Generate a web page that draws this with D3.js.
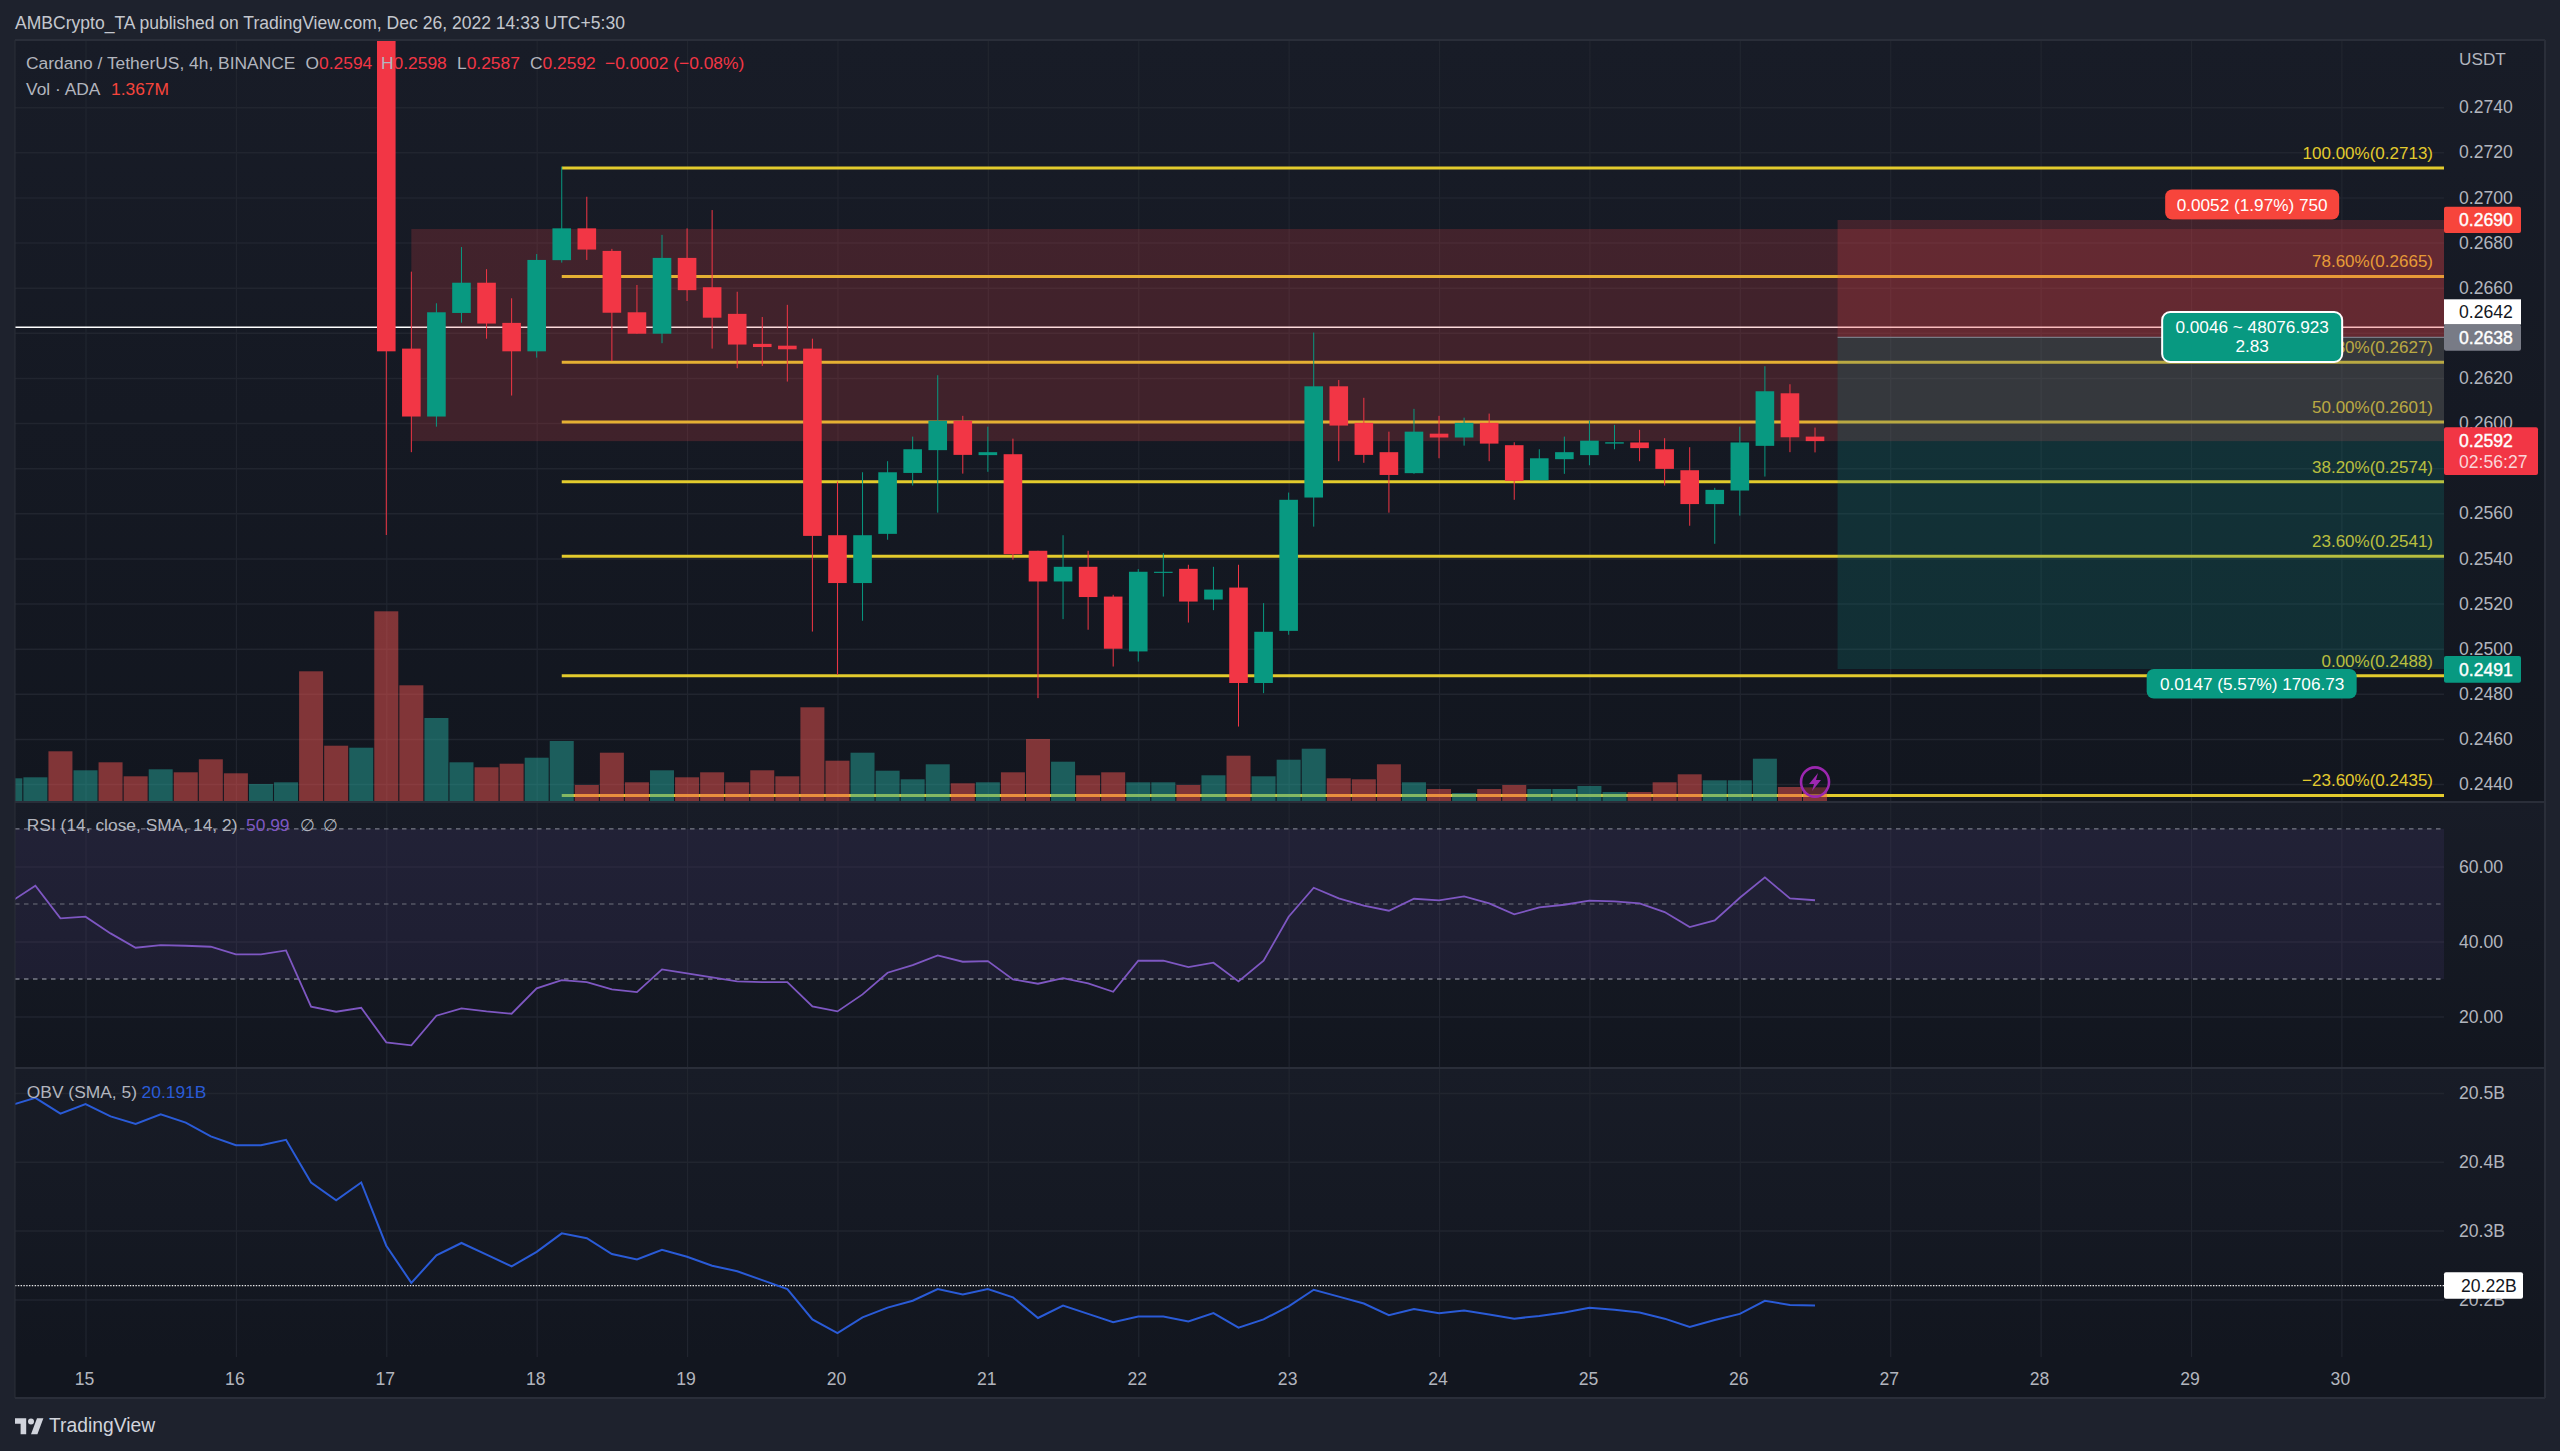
<!DOCTYPE html>
<html>
<head>
<meta charset="utf-8">
<script src="https://cdn.jsdelivr.net/npm/d3@7"></script>
<style>
  html, body { margin: 0; padding: 0; background: #1e222d; }
  svg { display: block; }
  text { font-family: "Liberation Sans", Arial, sans-serif; }
</style>
</head>
<body>
<div id="chart"></div>
<script>
// candles start on day 17, one every 4h
var candleOpen = [.2790,.26330,.26029,.26488,.26622,.26444,.26318,.26722,.26863,.26763,
  .26491,.26396,.26732,.26602,.26484,.26351,.26343,.26330,.25503,.25291,
  .25509,.25779,.25880,.26010,.25858,.25862,.25434,.25298,.25363,.25231,
  .24988,.25336,.25354,.25218,.25271,.24848,.25079,.25670,.26163,.26001,
  .25871,.25778,.25953,.25936,.26001,.25902,.25747,.25840,.25858,.25909,
  .25914,.25884,.25791,.25641,.25701,.25899,.26132,.2594];
var candleHigh = [.2800,.26671,.26531,.26780,.26682,.26553,.26749,.27136,.27003,.26772,
  .26612,.26834,.26863,.26944,.26582,.26470,.26524,.26374,.25741,.25782,
  .25831,.25940,.26212,.26032,.25984,.25931,.25434,.25503,.25434,.25239,
  .25353,.25424,.25372,.25363,.25372,.25202,.25692,.26401,.26191,.26112,
  .25962,.26063,.26032,.26024,.26042,.25915,.25884,.25940,.26011,.25992,
  .25970,.25933,.25893,.25713,.25984,.26252,.26172,.2598];
var candleLow = [.25504,.25871,.25984,.26445,.26374,.26122,.26290,.26711,.26723,.26275,
  .26396,.26354,.26541,.26330,.26243,.26253,.26184,.25076,.24884,.25124,
  .25483,.25723,.25603,.25776,.25784,.25395,.24781,.25131,.25084,.24921,
  .24943,.25231,.25116,.25171,.24655,.24803,.25062,.25541,.25831,.25824,
  .25603,.25775,.25844,.25900,.25831,.25660,.25747,.25775,.25813,.25884,
  .25831,.25723,.25545,.25465,.25590,.25763,.25871,.2587];
var candleClose = [.26318,.26029,.26491,.26622,.26441,.26318,.26723,.26863,.26769,.26489,
  .26396,.26732,.26589,.26467,.26348,.26337,.26327,.25500,.25291,.25503,
  .25782,.25884,.26010,.25859,.25871,.25419,.25298,.25363,.25229,.25000,
  .25341,.25341,.25209,.25262,.24848,.25075,.25660,.26163,.25989,.25859,
  .25770,.25962,.25936,.26001,.25909,.25744,.25844,.25871,.25922,.25915,
  .25889,.25797,.25641,.25704,.25914,.26141,.25937,.2592];

// indicator rows start at day 14.5 (15 bars before the first candle)
var volume = [2.27,2.37,4.97,3.07,3.87,2.47,3.17,2.87,4.17,2.77,1.70,1.87,12.97,5.53,5.33,
  18.97,11.57,8.30,3.87,3.37,3.73,4.33,6.00,1.60,4.83,1.87,3.07,2.37,2.87,1.87,3.07,2.47,9.37,4.03,4.83,
  3.03,2.17,3.67,1.77,1.87,2.87,6.20,3.93,2.57,2.87,1.87,1.87,1.60,2.57,4.53,2.47,4.13,5.23,2.27,2.17,3.67,
  1.87,1.20,0.80,1.20,1.60,1.20,1.20,1.50,0.90,0.90,1.87,2.67,2.07,2.07,4.23,1.40,1.367];
var volumeUp = [1,1,0,1,0,0,1,0,0,0,1,1,0,0,1,
  0,0,1,1,0,0,1,1,0,0,0,1,0,0,0,0,0,0,0,1,1,1,1,0,1,0,0,1,0,0,1,1,0,1,0,1,1,1,0,0,0,
  1,0,1,0,0,1,1,1,1,0,0,0,1,1,1,0,0];
var rsi = [50.5,54.85,46.15,46.6,42.16,38.34,39.05,38.87,38.6,36.56,36.56,37.63,22.63,21.3,22.36,
  13.13,12.33,20.23,22.18,21.38,20.76,27.51,29.73,29.2,27.24,26.53,32.57,31.5,30.44,29.37,29.2,29.2,22.72,21.38,25.91,
  31.68,33.72,36.3,34.61,34.79,29.91,28.75,30.26,28.84,26.62,34.88,34.88,33.19,34.35,29.37,34.88,46.6,54.32,51.48,49.53,48.19,
  51.39,50.95,52.01,50.15,47.22,49.08,49.79,50.86,50.68,50.15,47.84,43.84,45.62,51.66,57.07,51.48,50.99];
var obv = [20.482,20.493,20.470,20.484,20.466,20.455,20.469,20.457,20.437,20.424,20.424,20.432,20.370,20.344,20.370,
  20.278,20.224,20.264,20.282,20.265,20.248,20.269,20.296,20.289,20.266,20.258,20.272,20.262,20.249,20.241,20.228,20.215,20.171,20.151,20.174,
  20.188,20.198,20.215,20.207,20.215,20.203,20.173,20.191,20.179,20.167,20.175,20.175,20.168,20.180,20.159,20.171,20.190,20.214,20.204,20.194,20.177,
  20.186,20.180,20.184,20.178,20.172,20.176,20.181,20.188,20.185,20.181,20.172,20.160,20.170,20.179,20.198,20.192,20.191];

var dayTicks = [15,16,17,18,19,20,21,22,23,24,25,26,27,28,29,30];
var priceGrid = [.274,.272,.270,.268,.266,.264,.262,.260,.258,.256,.254,.252,.250,.248,.246,.244];
// .264 and .258 sit behind the price boxes, no label for those
var priceTicks = [.274,.272,.270,.268,.266,.262,.260,.256,.254,.252,.250,.248,.246,.244];
var rsiTicks = [60,40,20];
var rsiBands = [70,50,30];
var obvTicks = [20.5,20.4,20.3,20.2];

var fibPrices = [.2713,.2665,.2627,.26005,.2574,.2541,.2488,.2435];
var fibLabels = ["100.00%(0.2713)","78.60%(0.2665)","61.80%(0.2627)","50.00%(0.2601)","38.20%(0.2574)","23.60%(0.2541)","0.00%(0.2488)","−23.60%(0.2435)"];

var markedPrice = .26425, zoneTop = .2686, zoneBottom = .2592;
var entry = .2638, stop = .2690, target = .2491;

var chartW = 2560, chartH = 1451;
var left = 15, plotRight = 2444, panelRight = 2545, top_ = 41, mainBottom = 801, rsiBottom = 1068, plotBottom = 1357, panelBottom = 1398;
var textCol = "#b2b5be", red = "#f23645", green = "#089981", orange = "#f7453c";

var x = d3.scaleLinear().domain([15, 30]).range([85.5, 2341.4]);
var y = d3.scaleLinear().domain([.244, .272]).range([784.1, 152.3]);
var yVol = d3.scaleLinear().domain([0, 10]).range([801, 701]);
var yRsi = d3.scaleLinear().domain([20, 60]).range([1016.6, 866.4]);
var yObv = d3.scaleLinear().domain([20.2, 20.5]).range([1299.4, 1093]);

var svg = d3.select("#chart").append("svg").attr("width", chartW).attr("height", chartH);
var defs = svg.append("defs");

var grad = defs.append("linearGradient").attr("id", "paneBg").attr("x1", 0).attr("x2", 0).attr("y1", 0).attr("y2", 1);
grad.append("stop").attr("offset", "0%").attr("stop-color", "#181c27");
grad.append("stop").attr("offset", "100%").attr("stop-color", "#12161f");

function clip(id, y0, y1) {
  defs.append("clipPath").attr("id", id).append("rect")
    .attr("x", left).attr("y", y0).attr("width", plotRight - left).attr("height", y1 - y0);
}
clip("clipMain", top_, mainBottom);
clip("clipRsi", mainBottom, rsiBottom);
clip("clipObv", rsiBottom, plotBottom);

function label(g, px, py, txt, col, anchor, size, weight) {
  return g.append("text").attr("x", px).attr("y", py).attr("dy", ".35em")
    .attr("text-anchor", anchor || "start").attr("fill", col)
    .attr("font-size", size || 17.4).attr("font-weight", weight || 400).text(txt);
}

// labels in the price boxes are a bit heavier than normal, not full bold
function heavy(t) {
  return t.attr("stroke", t.attr("fill")).attr("stroke-width", .4);
}

function box(g, x0, y0, x1, y1, fill, r) {
  return g.append("rect").attr("x", x0).attr("y", y0).attr("width", x1 - x0).attr("height", y1 - y0)
    .attr("rx", r || 0).attr("fill", fill);
}

// ---- panels
svg.append("rect").attr("width", chartW).attr("height", chartH).attr("fill", "#1e222d");
[[top_ - 1, mainBottom], [mainBottom, rsiBottom], [rsiBottom, plotBottom]].forEach(function (p) {
  box(svg, left, p[0], panelRight, p[1], "url(#paneBg)");
});
box(svg, left, plotBottom, panelRight, panelBottom, "#12161f");

// ---- grid, drawn with the axes themselves
function hGrid(scale, ticks) {
  var g = svg.append("g").attr("transform", "translate(" + left + ",0)")
    .call(d3.axisRight(scale).tickValues(ticks).tickSize(plotRight - left).tickFormat(""));
  g.select(".domain").remove();
  g.selectAll("line").attr("stroke", "#21252f").attr("stroke-width", 1.5);
}
hGrid(y, priceGrid);
hGrid(yRsi, rsiTicks);
hGrid(yObv, obvTicks);

var vGrid = svg.append("g").attr("transform", "translate(0," + plotBottom + ")")
  .call(d3.axisTop(x).tickValues(dayTicks).tickSize(plotBottom - top_).tickFormat(""));
vGrid.select(".domain").remove();
vGrid.selectAll("line").attr("stroke", "#21252f").attr("stroke-width", 1.2);

// ---- main pane
var main = svg.append("g").attr("clip-path", "url(#clipMain)");

main.append("line").attr("x1", left).attr("x2", plotRight).attr("y1", y(markedPrice)).attr("y2", y(markedPrice))
  .attr("stroke", "#ffffff").attr("stroke-width", 1.5);

var fibStart = 17 + 7 / 6;
main.selectAll(".fib").data(fibPrices).enter().append("line")
  .attr("x1", x(fibStart)).attr("x2", plotRight)
  .attr("y1", function (d) { return y(d); }).attr("y2", function (d) { return y(d); })
  .attr("stroke", "#e3cb2d").attr("stroke-width", 3);
main.selectAll(".fibText").data(fibPrices).enter().append("text")
  .attr("x", 2433).attr("y", function (d) { return y(d) - 15; }).attr("dy", ".35em")
  .attr("text-anchor", "end").attr("fill", "#e3cb2d").attr("font-size", 17)
  .text(function (d, i) { return fibLabels[i]; });

// supply zone and long position sit over the lines, the colours mix
var zoneStart = 17 + 1 / 6, posStart = 26.65, posEnd = 32.15;
box(main, x(zoneStart), y(zoneTop), plotRight, y(zoneBottom), "rgba(240,68,75,.2)");
box(main, x(posStart), y(stop), plotRight, y(entry), "rgba(240,68,75,.2)");
box(main, x(posStart), y(entry), plotRight, y(target), "rgba(8,147,135,.2)");
main.append("line").attr("x1", x(posStart)).attr("x2", plotRight).attr("y1", y(entry)).attr("y2", y(entry))
  .attr("stroke", "#787b86").attr("stroke-width", 1.2);

// volume
var barDay = function (i) { return 14.5 + i / 6; };
main.selectAll(".vol").data(volume).enter().append("rect")
  .attr("x", function (d, i) { return x(barDay(i)) - 12; })
  .attr("width", 24)
  .attr("y", function (d) { return yVol(d); })
  .attr("height", function (d) { return yVol(0) - yVol(d); })
  .attr("fill", function (d, i) { return volumeUp[i] ? "#26a69a" : "#ef5350"; })
  .attr("fill-opacity", .5);

// candles
var candleDay = function (i) { return 17 + i / 6; };
var candleCol = function (i) { return candleClose[i] >= candleOpen[i] ? green : red; };
main.selectAll(".wick").data(candleHigh).enter().append("line")
  .attr("x1", function (d, i) { return x(candleDay(i)); })
  .attr("x2", function (d, i) { return x(candleDay(i)); })
  .attr("y1", function (d) { return y(d); })
  .attr("y2", function (d, i) { return y(candleLow[i]); })
  .attr("stroke", function (d, i) { return candleCol(i); })
  .attr("stroke-width", 1);
main.selectAll(".body").data(candleOpen).enter().append("rect")
  .attr("x", function (d, i) { return x(candleDay(i)) - 9.3; })
  .attr("width", 18.6)
  .attr("y", function (d, i) { return y(Math.max(d, candleClose[i])); })
  .attr("height", function (d, i) { return Math.abs(y(d) - y(candleClose[i])); })
  .attr("fill", function (d, i) { return candleCol(i); });

// lightning mark
var bolt = svg.append("g").attr("transform", "translate(" + x(candleDay(57)) + ",782)");
bolt.append("ellipse").attr("rx", 14).attr("ry", 14.6).attr("fill", "#131722").attr("fill-opacity", .35)
  .attr("stroke", "#9c27b0").attr("stroke-width", 2.6);
bolt.append("path").attr("d", "M3,-9 L-6,2 L-1,2 L-3,9 L6,-2 L1,-2 Z").attr("fill", "#9c27b0");

// ---- RSI
var rsiG = svg.append("g").attr("clip-path", "url(#clipRsi)");
box(rsiG, left, yRsi(70), plotRight, yRsi(30), "rgba(126,87,194,.1)");
rsiG.selectAll(".band").data(rsiBands).enter().append("line")
  .attr("x1", left).attr("x2", plotRight)
  .attr("y1", function (d) { return yRsi(d); }).attr("y2", function (d) { return yRsi(d); })
  .attr("stroke", "#787b86").attr("stroke-width", 1.4).attr("stroke-dasharray", "4.5 4.5")
  .attr("stroke-opacity", function (d) { return d === 50 ? .6 : 1; });
rsiG.append("path").datum(rsi).attr("fill", "none").attr("stroke", "#7e57c2").attr("stroke-width", 1.8)
  .attr("d", d3.line().x(function (d, i) { return x(barDay(i)); }).y(function (d) { return yRsi(d); }));

// ---- OBV
var obvG = svg.append("g").attr("clip-path", "url(#clipObv)");
obvG.append("line").attr("x1", left).attr("x2", plotRight).attr("y1", yObv(20.22)).attr("y2", yObv(20.22))
  .attr("stroke", "#e8e8ea").attr("stroke-width", 1.4).attr("stroke-dasharray", "1.4 1.4");
obvG.append("path").datum(obv).attr("fill", "none").attr("stroke", "#2a5bd7").attr("stroke-width", 2)
  .attr("d", d3.line().x(function (d, i) { return x(barDay(i)); }).y(function (d) { return yObv(d); }));

// ---- axes
function rightAxis(scale, ticks, fmt) {
  var g = svg.append("g").attr("transform", "translate(" + plotRight + ",0)")
    .call(d3.axisRight(scale).tickValues(ticks).tickSize(0).tickPadding(15).tickFormat(fmt));
  g.select(".domain").remove();
  g.selectAll("text").attr("fill", textCol).attr("font-size", 17.6).attr("font-family", null);
  g.attr("font-family", null);
}
rightAxis(y, priceTicks, d3.format(".4f"));
rightAxis(yRsi, rsiTicks, d3.format(".2f"));
rightAxis(yObv, obvTicks, function (d) { return d.toFixed(1) + "B"; });

var xAxisG = svg.append("g").attr("transform", "translate(-1.5,1379)")
  .call(d3.axisBottom(x).tickValues(dayTicks).tickSize(0).tickPadding(0).tickFormat(d3.format("d")));
xAxisG.select(".domain").remove();
xAxisG.attr("font-family", null);
xAxisG.selectAll("text").attr("fill", textCol).attr("font-size", 17.6).attr("dy", ".35em");

// pane separators and frame
[top_ - 1, mainBottom + 1, rsiBottom, panelBottom].forEach(function (py) {
  svg.append("line").attr("x1", left).attr("x2", panelRight).attr("y1", py).attr("y2", py)
    .attr("stroke", "#2a2e39").attr("stroke-width", 2);
});
svg.append("line").attr("x1", panelRight).attr("x2", panelRight).attr("y1", top_ - 1).attr("y2", panelBottom)
  .attr("stroke", "#2a2e39").attr("stroke-width", 2);
svg.append("line").attr("x1", left).attr("x2", left).attr("y1", top_ - 1).attr("y2", panelBottom)
  .attr("stroke", "#2a2e39").attr("stroke-width", 1);

// ---- axis price boxes
label(svg, 2459, 59, "USDT", textCol, "start", 17.2);
box(svg, 2444, 206.7, 2521, 233, orange, 2);
heavy(label(svg, 2459, 220, "0.2690", "#fff", "start", 17.6));
box(svg, 2444, 299.3, 2521, 324.5, "#fff");
label(svg, 2459, 312, "0.2642", "#131722", "start", 17.6);
box(svg, 2444, 324.5, 2521, 350.7, "#787b86", 2);
heavy(label(svg, 2459, 338, "0.2638", "#fff", "start", 17.6));
box(svg, 2444, 427.3, 2538, 475, red, 2);
heavy(label(svg, 2459, 441, "0.2592", "#fff", "start", 17.6));
label(svg, 2459, 462, "02:56:27", "#fbd5d9", "start", 17.6);
box(svg, 2444, 656, 2521, 682.7, green, 2);
heavy(label(svg, 2459, 669.5, "0.2491", "#fff", "start", 17.6));
box(svg, 2444, 1272.3, 2523, 1298.7, "#fff", 2);
label(svg, 2461, 1285.6, "20.22B", "#131722", "start", 17.6);

// ---- position tool pills
var pillX = x((posStart + posEnd) / 2) + 1;
box(svg, pillX - 87, y(stop) - 30.5, pillX + 87, y(stop) - .5, orange, 7);
label(svg, pillX, y(stop) - 15.5, "0.0052 (1.97%) 750", "#fff", "middle", 17.2);
box(svg, pillX - 90, 312, pillX + 90, 362, green, 8).attr("stroke", "#fff").attr("stroke-width", 2);
label(svg, pillX, 327.3, "0.0046 ~ 48076.923", "#fff", "middle", 17.2);
label(svg, pillX, 345.7, "2.83", "#fff", "middle", 17.2);
box(svg, pillX - 105.5, y(target), pillX + 104.5, y(target) + 29.5, green, 7);
label(svg, pillX, y(target) + 14.5, "0.0147 (5.57%) 1706.73", "#fff", "middle", 17.2);

// ---- header and legends
label(svg, 15, 22.5, "AMBCrypto_TA published on TradingView.com, Dec 26, 2022 14:33 UTC+5:30", "#c4c7ce", "start", 17.55);

label(svg, 26, 63, "Cardano / TetherUS, 4h, BINANCE", textCol);
var ohlc = [["O", "0.2594", 305.5], ["H", "0.2598", 381], ["L", "0.2587", 457], ["C", "0.2592", 530]];
ohlc.forEach(function (o) {
  var t = label(svg, o[2], 63, o[0], textCol);
  t.append("tspan").attr("fill", red).text(o[1]);
});
label(svg, 605, 63, "−0.0002 (−0.08%)", red);
label(svg, 26, 89, "Vol · ADA", textCol);
label(svg, 111, 89, "1.367M", orange);

label(svg, 26.8, 825, "RSI (14, close, SMA, 14, 2)", textCol);
label(svg, 246, 825, "50.99", "#7e57c2");
label(svg, 300, 825, "∅", textCol);
label(svg, 323, 825, "∅", textCol);

label(svg, 26.8, 1091.7, "OBV (SMA, 5)", textCol);
label(svg, 141.6, 1091.7, "20.191B", "#2a5bd7");

// ---- footer logo
svg.append("path").attr("transform", "translate(15,1415) scale(.8)")
  .attr("d", "M14 24H7V11H0V4h14v20zM28 24h-8l7.5-20h8L28 24z").attr("fill", "#d1d4dc");
svg.append("circle").attr("cx", 31).attr("cy", 1421.5).attr("r", 3).attr("fill", "#d1d4dc");
label(svg, 49, 1425, "TradingView", "#d1d4dc", "start", 19.3);
</script>
</body>
</html>
